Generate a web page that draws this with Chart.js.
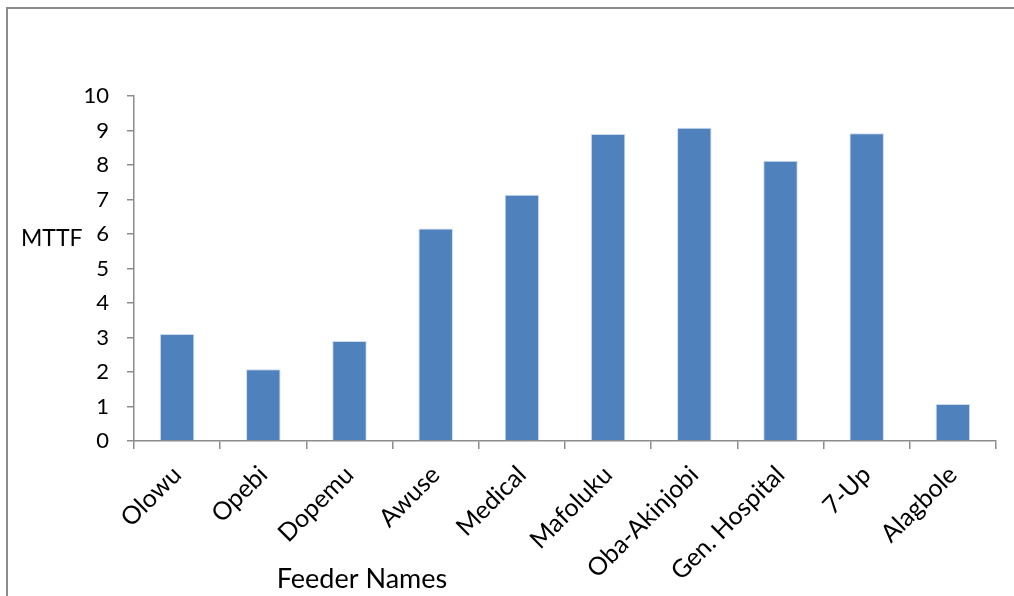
<!DOCTYPE html>
<html>
<head>
<meta charset="utf-8">
<script src="https://cdn.jsdelivr.net/npm/chart.js@4"></script>
<style>
  html, body { margin: 0; padding: 0; background: #fff; }
  #wrap { position: relative; width: 1014px; height: 596px; }
  #frame {
    position: absolute; left: 6px; top: 7px; right: 0; bottom: 0;
    border-left: 2px solid #8c8c8c; border-top: 2px solid #8c8c8c;
    pointer-events: none;
  }
  canvas { position: absolute; left: 0; top: 0; }
</style>
</head>
<body>
<div id="wrap">
  <canvas id="mttfChart" width="1014" height="596"></canvas>
  <div id="frame"></div>
</div>
<script>
// Data
const feederNames = ['Olowu', 'Opebi', 'Dopemu', 'Awuse', 'Medical', 'Mafoluku', 'Oba-Akinjobi', 'Gen. Hospital', '7-Up', 'Alagbole'];
const mttfValues = [3.1, 2.08, 2.9, 6.16, 7.14, 8.9, 9.08, 8.12, 8.92, 1.07];
const yTicks = [0, 1, 2, 3, 4, 5, 6, 7, 8, 9, 10];

const fontFamily = "Lato, 'Open Sans', sans-serif";
const axisGray = '#8c8c8c';

// Axis titles sit off-centre in the original, so draw them by hand
const titlesPlugin = {
    id: 'titles',
    afterDraw(chart) {
        const ctx = chart.ctx;
        ctx.save();
        ctx.fillStyle = '#000';
        ctx.textBaseline = 'middle';
        ctx.textAlign = 'left';
        ctx.font = '23px ' + fontFamily;
        ctx.fillText('MTTF', 21, 239);
        ctx.textAlign = 'center';
        ctx.font = '27px ' + fontFamily;
        ctx.fillText('Feeder Names', 362, 579);
        ctx.restore();
    }
};

new Chart(document.getElementById('mttfChart'), {
    type: 'bar',
    data: {
        labels: feederNames,
        datasets: [{
            label: 'MTTF',
            data: mttfValues,
            backgroundColor: '#4f81bd',
            borderColor: 'rgba(200, 215, 235, 0.9)',
            borderWidth: 1,
            categoryPercentage: 0.8,
            barPercentage: 0.5
        }]
    },
    options: {
        responsive: false,
        animation: false,
        layout: {
            padding: { top: 96, right: 18, left: 0, bottom: 0 }
        },
        plugins: {
            legend: { display: false },
            tooltip: { enabled: false }
        },
        scales: {
            x: {
                offset: true,
                grid: {
                    offset: true,
                    drawOnChartArea: false,
                    drawTicks: true,
                    tickLength: 8,
                    color: axisGray,
                    lineWidth: 1.5
                },
                border: { color: axisGray, width: 1.5 },
                ticks: {
                    color: '#000',
                    font: { family: fontFamily, size: 25 },
                    minRotation: 45,
                    maxRotation: 45,
                    padding: 11
                },
                afterFit(scale) {
                    scale.height = 596 - 441;
                }
            },
            y: {
                min: 0,
                max: 10,
                afterBuildTicks(scale) {
                    scale.ticks = yTicks.map(v => ({ value: v }));
                },
                grid: {
                    drawOnChartArea: false,
                    drawTicks: true,
                    tickLength: 7,
                    color: axisGray,
                    lineWidth: 1.5
                },
                border: { color: axisGray, width: 1.5 },
                ticks: {
                    color: '#000',
                    font: { family: fontFamily, size: 22 },
                    padding: 18
                },
                afterFit(scale) {
                    scale.width = 134;
                }
            }
        }
    },
    plugins: [titlesPlugin]
});
</script>
</body>
</html>
